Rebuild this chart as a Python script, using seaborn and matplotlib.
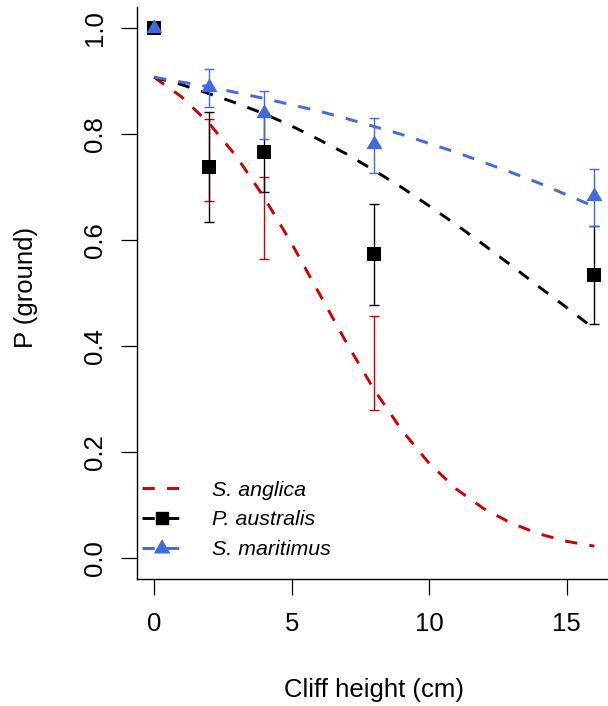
import matplotlib
matplotlib.use("Agg")
import matplotlib.pyplot as plt
from matplotlib.lines import Line2D
import seaborn as sns
import pandas as pd
import numpy as np

# ---------------- data ----------------
species = ["S. anglica", "P. australis", "S. maritimus"]
colors = {"S. anglica": "#D00000", "P. australis": "#000000", "S. maritimus": "#4169E1"}

# fitted curves
curve_x = [0, 1, 2, 3, 4, 5, 6, 7, 8, 9, 10, 11, 12, 13, 14, 15, 16]
curve_anglica = [0.907, 0.870, 0.820, 0.757, 0.680, 0.593, 0.499, 0.405, 0.317,
                 0.241, 0.178, 0.129, 0.092, 0.065, 0.045, 0.031, 0.022]
curve_australis = [0.907, 0.893, 0.876, 0.858, 0.838, 0.815, 0.789, 0.762, 0.731,
                   0.699, 0.664, 0.628, 0.590, 0.551, 0.511, 0.472, 0.432]
curve_maritimus = [0.907, 0.898, 0.889, 0.878, 0.867, 0.855, 0.843, 0.829, 0.814,
                   0.799, 0.782, 0.765, 0.746, 0.727, 0.707, 0.685, 0.663]

# observed points
pts_x = [0, 2, 4, 8, 16]
pts_australis = [1.0, 0.737, 0.766, 0.574, 0.534]
pts_maritimus = [1.0, 0.888, 0.839, 0.781, 0.682]

# error bars
err_x = [2, 4, 8, 16]
anglica_err_x = [2, 4, 8]
anglica_lo = [0.673, 0.564, 0.279]
anglica_hi = [0.828, 0.719, 0.457]
australis_lo = [0.634, 0.691, 0.477, 0.4415]
australis_hi = [0.841, 0.840, 0.667, 0.626]
maritimus_lo = [0.850, 0.791, 0.726, 0.626]
maritimus_hi = [0.922, 0.881, 0.831, 0.734]

x_ticks = [0, 5, 10, 15]
y_ticks = [0.0, 0.2, 0.4, 0.6, 0.8, 1.0]
y_tick_labels = ["0.0", "0.2", "0.4", "0.6", "0.8", "1.0"]

# ---------------- styling ----------------
sns.set_style("ticks")
plt.rcParams["font.family"] = ["Liberation Sans", "DejaVu Sans"]
plt.rcParams["text.color"] = "black"
plt.rcParams["axes.labelcolor"] = "black"
plt.rcParams["xtick.color"] = "black"
plt.rcParams["ytick.color"] = "black"

fig = plt.figure(figsize=(6.08, 7.06), dpi=100)
ax = fig.add_axes([136.5 / 608, 1 - 579 / 706, (612 - 136.5) / 608, (579 - 6.8) / 706])

LW = 2.1
DASH = (0, (4.2, 4.2))
CAP = 3.9
EW = 1.0
tri = [(0, 1), (-0.866, -0.5), (0.866, -0.5)]

curves = pd.DataFrame({
    "x": curve_x * 3,
    "y": curve_anglica + curve_australis + curve_maritimus,
    "sp": [species[0]] * len(curve_x) + [species[1]] * len(curve_x) + [species[2]] * len(curve_x),
})


def draw_err(xs, lo, hi, color, z):
    mid = [(a + b) / 2 for a, b in zip(lo, hi)]
    ax.errorbar(xs, mid,
                yerr=[[m - l for m, l in zip(mid, lo)], [h - m for m, h in zip(mid, hi)]],
                fmt="none", ecolor=color, elinewidth=EW, capsize=CAP, capthick=EW, zorder=z)


draw_err(anglica_err_x, anglica_lo, anglica_hi, colors[species[0]], 2)
draw_err(err_x, australis_lo, australis_hi, colors[species[1]], 2)
draw_err(err_x, maritimus_lo, maritimus_hi, colors[species[2]], 4)

# fitted curves
for sp in species:
    sub = curves[curves["sp"] == sp]
    sns.lineplot(data=sub, x="x", y="y", color=colors[sp], linewidth=LW,
                 linestyle=DASH, ax=ax, zorder=3, legend=False)

# points
sns.scatterplot(x=pts_x, y=pts_australis, marker="s", s=9.4 ** 2, color=colors[species[1]],
                linewidth=0, ax=ax, zorder=5, legend=False)
sns.scatterplot(x=pts_x, y=pts_maritimus, marker=tri, s=13.3 ** 2, color=colors[species[2]],
                linewidth=0, ax=ax, zorder=6, legend=False)

# axes
ax.set_xlim(-0.64, 16.64)
ax.set_ylim(-0.04, 1.04)
ax.set_xticks(x_ticks)
ax.set_xticklabels([str(v) for v in x_ticks])
ax.set_yticks(y_ticks)
ax.set_yticklabels(y_tick_labels, rotation=90, va="center")
for s in ["top", "right"]:
    ax.spines[s].set_visible(False)
for s in ["left", "bottom"]:
    ax.spines[s].set_linewidth(1.0)
    ax.spines[s].set_color("black")
ax.tick_params(axis="both", length=11.5, width=0.9, color="black", labelsize=18.5, labelcolor="black")
ax.tick_params(axis="x", pad=12)
ax.tick_params(axis="y", pad=10)

ax.set_xlabel("Cliff height (cm)", fontsize=18.5, va="center", ha="center", color="black")
ax.xaxis.set_label_coords(0.5, (579 - 690) / 572.2)
ax.set_ylabel("P (ground)", fontsize=18.5, va="center", ha="center", rotation_mode="anchor", color="black")
ax.yaxis.set_label_coords((26 - 136.5) / 475.5, 0.51)

handles = [
    Line2D([], [], color=colors[species[0]], lw=LW, linestyle=DASH),
    Line2D([], [], color=colors[species[1]], lw=LW, linestyle=DASH, marker="s", markersize=9.0),
    Line2D([], [], color=colors[species[2]], lw=LW, linestyle=DASH, marker=tri, markersize=12.5),
]
leg = ax.legend(handles, species, loc="upper left", bbox_to_anchor=(0.011, 0.172),
                frameon=False, borderpad=0, borderaxespad=0, handlelength=1.87,
                handletextpad=1.4, labelspacing=0.51, numpoints=1,
                prop={"family": ["Liberation Sans"], "style": "italic", "size": 15.4})
for t in leg.get_texts():
    t.set_color("black")

fig.savefig("out.png", dpi=100)
